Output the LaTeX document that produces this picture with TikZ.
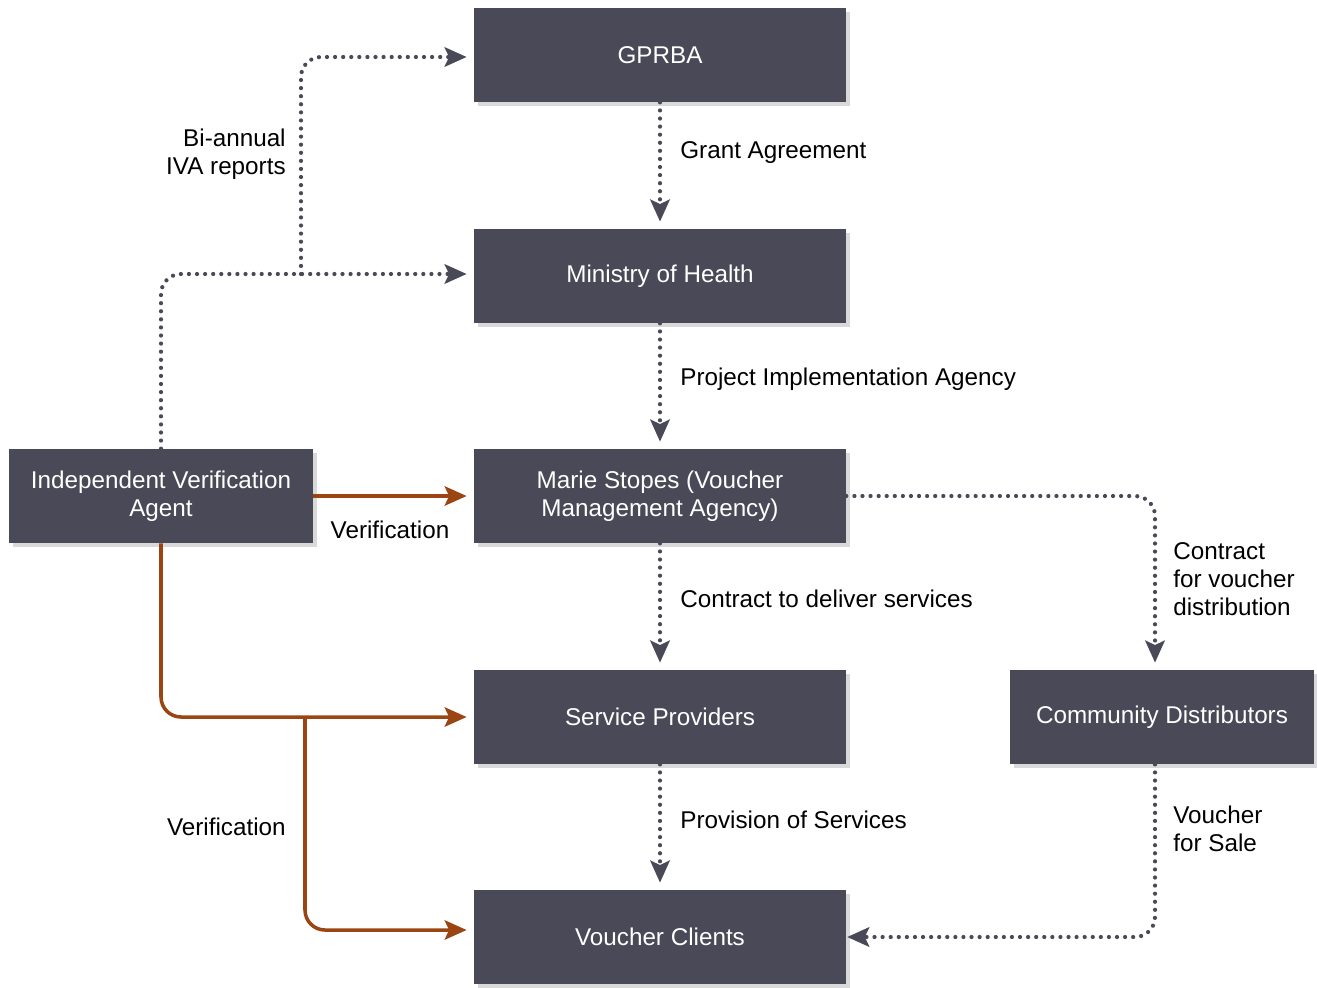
\documentclass[tikz,border=0pt]{standalone}
\usepackage{fontspec}
\setmainfont{Liberation Sans}
\usetikzlibrary{arrows.meta,shadows}

\definecolor{boxgray}{RGB}{74,73,88}
\definecolor{verbrown}{RGB}{155,70,18}

\begin{document}
\begin{tikzpicture}[x=0.02cm, y=-0.02cm,
    every node/.style={font=\fontsize{13.8}{15.9}\selectfont},
    box/.style={fill=boxgray, text=white, align=center, inner sep=0pt,
      minimum height=1.88cm,
      drop shadow={shadow xshift=2.5pt, shadow yshift=-2.5pt,
        opacity=.15, fill=black}},
    wide/.style={box, minimum width=7.44cm},
    narrow/.style={box, minimum width=6.08cm},
    flow/.style={boxgray, line width=2.4pt, line cap=round,
      dash pattern=on 0pt off 4.6pt, rounded corners=0.4cm,
      -{Stealth[length=12.5pt, width=11pt, inset=2.5pt, line cap=butt]},
      shorten >=4pt},
    check/.style={verbrown, line width=2pt, rounded corners=0.4cm,
      -{Stealth[length=12.5pt, width=11pt, inset=2.5pt]}, shorten >=4pt},
    lbl/.style={align=left, anchor=west, text=black, inner sep=0pt},
    rlbl/.style={align=right, anchor=east, text=black, inner sep=0pt}]
  \useasboundingbox (0,0) rectangle (1317,987);

  \node[wide] (gprba) at (660,55) {GPRBA};
  \node[wide] (moh) at (660,276) {Ministry of Health};
  \node[wide] (ms) at (660,496) {Marie Stopes (Voucher\\Management Agency)};
  \node[wide] (sp) at (660,717) {Service Providers};
  \node[wide] (vc) at (660,937) {Voucher Clients};
  \node[narrow] (iva) at (161,496) {Independent Verification\\Agent};
  \node[narrow] (cd) at (1162,717) {Community Distributors};

  \coordinate (rep) at (301,274);
  \coordinate (ver) at (305,717);

  \draw[flow] (gprba) -- (moh);
  \draw[flow] (moh) -- (ms);
  \draw[flow] (ms) -- (sp);
  \draw[flow] (sp) -- (vc);
  \draw[flow] (ms.east) -| ([xshift=-0.14cm]cd.north);
  \draw[flow, shorten >=0.5pt] ([xshift=-0.14cm]cd.south) |- (vc.east);
  \draw[flow] (iva.north) |- ([yshift=0.04cm]moh.west);
  \draw[flow] (rep) |- ([yshift=-0.04cm]gprba.west);

  \draw[check] (iva.east) -- (ms.west);
  \draw[check] (iva.south) |- (sp.west);
  \draw[check] (ver) |- ([yshift=0.14cm]vc.west);

  \node[lbl] (l1) at (680,153) {Grant Agreement};
  \node[lbl] (l2) at (680,379) {Project Implementation Agency};
  \node[lbl] (l3) at (680,599) {Contract to deliver services};
  \node[lbl] (l4) at (680,820) {Provision of Services};
  \node[lbl] (l5) at (1173,579) {Contract\\for voucher\\distribution};
  \node[lbl] (l6) at (1173,829) {Voucher\\for Sale};
  \node[rlbl] (l7) at (286,154) {Bi-annual\\IVA reports};
  \node[rlbl] (l8) at (286,827) {Verification};
  \node[text=black] (l9) at (390,530) {Verification};
\end{tikzpicture}
\end{document}
